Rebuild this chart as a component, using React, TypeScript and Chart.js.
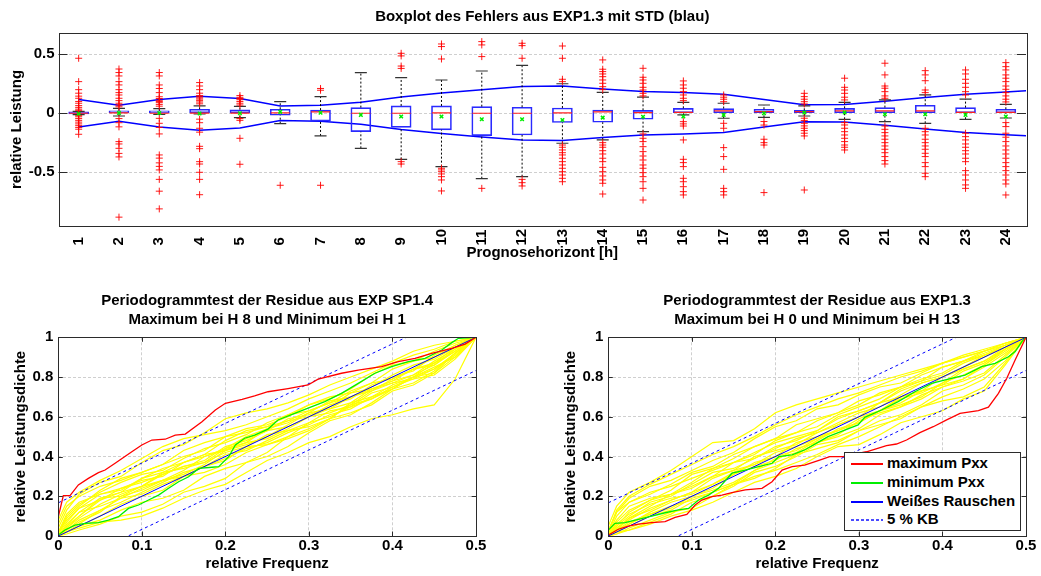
import React, { useEffect, useRef } from "react";
import { Chart, registerables } from "chart.js";

Chart.register(...registerables);

const FONT = "'Liberation Sans', Arial, Helvetica, sans-serif";
const GRID = "#cfcfcf";

// ---------------- Top chart: boxplot ----------------
const hours = ["1","2","3","4","5","6","7","8","9","10","11","12","13","14","15","16","17","18","19","20","21","22","23","24"];
const boxQ1 = [-0.006, 0, 0, 0, 0, -0.017, -0.066, -0.156, -0.119, -0.14, -0.19, -0.184, -0.078, -0.076, -0.051, 0, 0, 0.006, 0.006, 0, 0, 0, 0, 0];
const boxMedian = [0, 0.003, 0, 0.002, 0.002, 0.003, 0.012, 0, 0, 0.003, 0, 0, 0.003, 0.011, 0.005, 0.008, 0.02, 0.014, 0.014, 0.02, 0.02, 0.02, 0.008, 0.008];
const boxQ3 = [0.012, 0.02, 0.02, 0.034, 0.03, 0.034, 0.027, 0.048, 0.062, 0.062, 0.056, 0.051, 0.045, 0.028, 0.025, 0.042, 0.04, 0.034, 0.025, 0.042, 0.048, 0.068, 0.048, 0.034];
const whiskerLow = [-0.012, -0.023, -0.01, -0.006, -0.037, -0.088, -0.192, -0.297, -0.39, -0.452, -0.554, -0.537, -0.254, -0.226, -0.156, -0.014, -0.042, -0.034, -0.023, -0.051, -0.071, -0.085, -0.051, -0.04];
const whiskerHigh = [0.016, 0.042, 0.04, 0.062, 0.058, 0.099, 0.141, 0.344, 0.302, 0.282, 0.358, 0.406, 0.25, 0.177, 0.136, 0.093, 0.085, 0.07, 0.062, 0.093, 0.113, 0.155, 0.119, 0.076];
const boxMean = [-0.004, 0.003, 0.002, -0.002, 0, 0.012, 0.004, -0.014, -0.028, -0.028, -0.051, -0.051, -0.057, -0.037, -0.029, -0.028, -0.014, 0, 0.006, 0.006, -0.008, -0.008, -0.014, -0.028];
const stdDev = [0.117, 0.068, 0.117, 0.144, 0.125, 0.062, 0.068, 0.093, 0.138, 0.172, 0.2, 0.227, 0.23, 0.206, 0.185, 0.176, 0.162, 0.116, 0.072, 0.075, 0.101, 0.133, 0.162, 0.181, 0.2];
const outliers = [
  [0.466, 0.268, 0.2, 0.17, 0.145, 0.127, 0.1, 0.085, 0.065, 0.05, 0.035, 0.025, -0.02, -0.03, -0.045, -0.06, -0.075, -0.09, -0.105, -0.12, -0.135, -0.178],
  [0.375, 0.345, 0.316, 0.268, 0.24, 0.2, 0.175, 0.155, 0.127, 0.107, 0.085, 0.07, 0.055, -0.045, -0.08, -0.115, -0.24, -0.26, -0.297, -0.34, -0.37, -0.88],
  [0.345, 0.316, 0.24, 0.21, 0.175, 0.14, 0.125, 0.11, 0.1, 0.09, 0.075, 0.06, -0.043, -0.085, -0.12, -0.175, -0.353, -0.38, -0.42, -0.45, -0.48, -0.56, -0.66, -0.81],
  [0.26, 0.231, 0.2, 0.17, 0.15, 0.14, 0.13, 0.12, 0.107, 0.095, 0.08, -0.05, -0.08, -0.127, -0.16, -0.28, -0.3, -0.41, -0.43, -0.5, -0.56, -0.69],
  [0.15, 0.135, 0.125, 0.115, 0.1, 0.085, 0.07, -0.045, -0.06, -0.212, -0.432],
  [-0.61],
  [0.21, 0.195, -0.61],
  [],
  [0.508, 0.486, 0.4, 0.38, -0.41, -0.43],
  [0.587, 0.565, 0.46, -0.466, -0.48, -0.495, -0.514, -0.537, -0.565, -0.658],
  [0.607, 0.579, 0.48, -0.636],
  [0.593, 0.573, 0.466, -0.56, -0.588, -0.616],
  [0.57, 0.466, 0.288, 0.268, -0.269, -0.288, -0.311, -0.334, -0.353, -0.381, -0.41, -0.438, -0.466, -0.495, -0.523, -0.551, -0.58],
  [0.452, 0.373, 0.353, 0.333, 0.31, 0.282, 0.254, 0.225, 0.2, -0.249, -0.269, -0.288, -0.317, -0.345, -0.381, -0.41, -0.458, -0.495, -0.531, -0.565, -0.593, -0.684],
  [0.381, 0.305, 0.282, 0.254, 0.22, 0.197, 0.169, 0.147, -0.175, -0.212, -0.24, -0.283, -0.325, -0.362, -0.396, -0.438, -0.466, -0.503, -0.537, -0.58, -0.636, -0.735],
  [0.274, 0.24, 0.212, 0.183, 0.155, 0.127, 0.107, -0.071, -0.09, -0.108, -0.226, -0.39, -0.418, -0.452, -0.551, -0.58, -0.622, -0.664, -0.692],
  [0.155, 0.136, 0.119, 0.098, -0.085, -0.127, -0.291, -0.367, -0.475, -0.636, -0.664, -0.692],
  [-0.07, -0.1, -0.22, -0.249, -0.269, -0.672],
  [0.169, 0.141, 0.119, 0.098, 0.079, -0.042, -0.062, -0.085, -0.107, -0.127, -0.147, -0.169, -0.192, -0.65],
  [0.297, 0.22, 0.197, 0.169, 0.136, 0.113, -0.079, -0.099, -0.127, -0.156, -0.184, -0.212, -0.24, -0.269, -0.288, -0.311],
  [0.424, 0.325, 0.231, 0.212, 0.183, 0.147, 0.127, -0.108, -0.136, -0.164, -0.192, -0.22, -0.249, -0.277, -0.305, -0.334, -0.367, -0.401, -0.43],
  [0.361, 0.325, 0.276, 0.197, 0.175, -0.127, -0.156, -0.184, -0.22, -0.249, -0.277, -0.305, -0.339, -0.367, -0.418, -0.452, -0.508, -0.537],
  [0.367, 0.333, 0.288, 0.254, 0.22, 0.183, 0.155, -0.169, -0.198, -0.226, -0.26, -0.288, -0.317, -0.345, -0.381, -0.41, -0.486, -0.523, -0.565, -0.607, -0.636],
  [0.429, 0.395, 0.367, 0.325, 0.297, 0.268, 0.231, 0.203, 0.175, 0.147, 0.119, 0.096, -0.079, -0.113, -0.169, -0.203, -0.24, -0.277, -0.311, -0.345, -0.381, -0.418, -0.452, -0.486, -0.523, -0.565, -0.599, -0.692],
];
const topYTicks = [-0.5, 0, 0.5];
const topYTickLabels = ["-0.5", "0", "0.5"];

// ---------------- Bottom charts: periodogram ----------------
const freqTicks = [0, 0.1, 0.2, 0.3, 0.4, 0.5];
const freqTickLabels = ["0", "0.1", "0.2", "0.3", "0.4", "0.5"];
const densTicks = [0, 0.2, 0.4, 0.6, 0.8, 1];
const densTickLabels = ["0", "0.2", "0.4", "0.6", "0.8", "1"];
const whiteNoiseX = [0, 0.5];
const whiteNoiseY = [0, 1];
const kbX = [0, 0.5];
const kbUpperY = [0.167, 1.167];
const kbLowerY = [-0.167, 0.833];
const yellowX = [0, 0.01, 0.025, 0.05, 0.075, 0.1, 0.125, 0.15, 0.175, 0.2, 0.225, 0.25, 0.275, 0.3, 0.325, 0.35, 0.375, 0.4, 0.425, 0.45, 0.475, 0.5];

const leftYellow = [
  [0.04,0.13,0.21,0.27,0.3,0.37,0.43,0.46,0.52,0.59,0.62,0.64,0.67,0.71,0.76,0.8,0.84,0.88,0.93,0.96,0.98,1],
  [0.01,0.09,0.15,0.23,0.29,0.32,0.36,0.43,0.47,0.5,0.52,0.55,0.61,0.66,0.69,0.74,0.81,0.86,0.88,0.93,0.97,1],
  [0,0.05,0.1,0.18,0.22,0.29,0.34,0.37,0.41,0.48,0.53,0.55,0.58,0.63,0.67,0.7,0.75,0.81,0.86,0.89,0.95,1],
  [0,0.03,0.07,0.12,0.2,0.25,0.28,0.33,0.4,0.43,0.47,0.54,0.58,0.6,0.64,0.7,0.74,0.77,0.81,0.88,0.94,1],
  [0.02,0.11,0.17,0.21,0.24,0.27,0.31,0.35,0.37,0.44,0.47,0.49,0.54,0.6,0.62,0.66,0.73,0.77,0.79,0.84,0.92,1],
  [0,0.06,0.12,0.19,0.2,0.23,0.28,0.3,0.35,0.41,0.43,0.48,0.53,0.55,0.59,0.66,0.69,0.74,0.8,0.82,0.9,1],
  [0,0.02,0.05,0.1,0.16,0.2,0.23,0.3,0.35,0.38,0.45,0.51,0.53,0.57,0.63,0.65,0.69,0.75,0.79,0.81,0.89,1],
  [0.01,0.07,0.14,0.21,0.23,0.29,0.32,0.34,0.37,0.42,0.45,0.46,0.5,0.57,0.6,0.65,0.72,0.75,0.8,0.87,0.93,1],
  [0,0.04,0.09,0.16,0.21,0.25,0.32,0.37,0.4,0.44,0.5,0.54,0.57,0.62,0.68,0.7,0.73,0.79,0.84,0.87,0.95,1],
  [0,0.02,0.05,0.08,0.13,0.17,0.19,0.23,0.3,0.34,0.37,0.42,0.5,0.54,0.59,0.67,0.7,0.74,0.8,0.85,0.9,1],
  [0,0.01,0.03,0.06,0.1,0.12,0.16,0.22,0.25,0.29,0.37,0.4,0.45,0.52,0.58,0.61,0.67,0.74,0.77,0.83,0.92,1],
  [0,0.02,0.04,0.07,0.08,0.1,0.14,0.19,0.23,0.26,0.32,0.38,0.42,0.47,0.5,0.55,0.59,0.61,0.64,0.66,0.79,1],
  [0.01,0.1,0.16,0.22,0.27,0.31,0.33,0.39,0.44,0.47,0.51,0.57,0.61,0.63,0.67,0.73,0.77,0.79,0.84,0.9,0.95,1],
  [0,0.05,0.12,0.15,0.19,0.24,0.28,0.31,0.36,0.43,0.46,0.5,0.56,0.62,0.64,0.67,0.74,0.78,0.81,0.86,0.94,1],
  [0.06,0.15,0.2,0.25,0.28,0.32,0.36,0.4,0.43,0.5,0.54,0.56,0.6,0.66,0.7,0.72,0.77,0.84,0.88,0.9,0.96,1],
  [0,0.03,0.08,0.13,0.19,0.21,0.26,0.3,0.32,0.36,0.42,0.46,0.49,0.53,0.59,0.62,0.66,0.73,0.76,0.82,0.92,1],
  [0,0.04,0.1,0.19,0.22,0.25,0.31,0.35,0.38,0.45,0.48,0.53,0.59,0.61,0.65,0.72,0.74,0.78,0.84,0.86,0.93,1],
  [0.02,0.08,0.14,0.18,0.24,0.28,0.3,0.37,0.41,0.43,0.49,0.53,0.55,0.6,0.66,0.69,0.76,0.8,0.83,0.91,0.96,1],
  [0.08,0.17,0.22,0.28,0.33,0.39,0.45,0.49,0.51,0.53,0.56,0.6,0.64,0.69,0.73,0.77,0.82,0.87,0.91,0.94,0.98,1],
  [0,0.02,0.06,0.13,0.17,0.22,0.27,0.32,0.35,0.39,0.44,0.47,0.52,0.56,0.61,0.64,0.7,0.76,0.8,0.84,0.91,1],
];
const leftMaxX = [0, 0.006, 0.014, 0.024, 0.036, 0.048, 0.056, 0.068, 0.088, 0.1, 0.112, 0.128, 0.14, 0.152, 0.172, 0.188, 0.2, 0.22, 0.235, 0.251, 0.275, 0.299, 0.311, 0.339, 0.359, 0.387, 0.407, 0.427, 0.447, 0.471, 0.487, 0.5];
const leftMaxY = [0.097, 0.203, 0.203, 0.257, 0.29, 0.319, 0.332, 0.366, 0.424, 0.458, 0.483, 0.487, 0.508, 0.513, 0.575, 0.634, 0.668, 0.688, 0.705, 0.726, 0.742, 0.76, 0.789, 0.819, 0.835, 0.852, 0.877, 0.894, 0.919, 0.944, 0.966, 1.0];
const leftMinX = [0, 0.008, 0.02, 0.032, 0.048, 0.06, 0.072, 0.084, 0.096, 0.108, 0.12, 0.132, 0.144, 0.156, 0.168, 0.184, 0.192, 0.204, 0.212, 0.223, 0.235, 0.251, 0.263, 0.283, 0.299, 0.319, 0.339, 0.359, 0.379, 0.399, 0.419, 0.439, 0.459, 0.471, 0.479, 0.5];
const leftMinY = [0.005, 0.03, 0.055, 0.064, 0.067, 0.08, 0.097, 0.139, 0.156, 0.181, 0.206, 0.24, 0.273, 0.298, 0.34, 0.346, 0.349, 0.399, 0.458, 0.492, 0.508, 0.538, 0.584, 0.617, 0.643, 0.676, 0.718, 0.768, 0.819, 0.852, 0.877, 0.894, 0.936, 0.973, 0.995, 1.0];

const rightYellow = [
  [0.05,0.15,0.22,0.27,0.33,0.4,0.47,0.48,0.54,0.62,0.66,0.69,0.72,0.75,0.78,0.81,0.84,0.87,0.9,0.93,0.96,1],
  [0.02,0.12,0.19,0.25,0.28,0.33,0.38,0.42,0.49,0.55,0.58,0.64,0.66,0.71,0.75,0.77,0.82,0.87,0.9,0.93,0.97,1],
  [0,0.07,0.13,0.18,0.23,0.31,0.34,0.39,0.45,0.49,0.52,0.58,0.62,0.66,0.72,0.75,0.78,0.85,0.88,0.91,0.96,1],
  [0,0.05,0.1,0.17,0.2,0.26,0.32,0.34,0.39,0.45,0.48,0.53,0.6,0.63,0.67,0.74,0.78,0.81,0.87,0.91,0.95,1],
  [0.01,0.08,0.15,0.19,0.21,0.25,0.3,0.33,0.4,0.43,0.46,0.52,0.56,0.6,0.67,0.7,0.73,0.8,0.84,0.88,0.95,1],
  [0,0.04,0.08,0.14,0.18,0.22,0.29,0.33,0.36,0.42,0.45,0.49,0.56,0.6,0.63,0.7,0.73,0.76,0.83,0.87,0.94,1],
  [0,0.03,0.06,0.12,0.17,0.2,0.24,0.31,0.35,0.38,0.44,0.47,0.51,0.58,0.62,0.65,0.71,0.75,0.79,0.86,0.93,1],
  [0,0.02,0.05,0.1,0.13,0.19,0.22,0.26,0.33,0.37,0.41,0.47,0.5,0.54,0.61,0.65,0.69,0.75,0.78,0.82,0.91,1],
  [0,0.01,0.04,0.08,0.12,0.14,0.2,0.26,0.29,0.34,0.41,0.44,0.47,0.53,0.56,0.59,0.65,0.68,0.7,0.75,0.87,1],
  [0,0.02,0.03,0.06,0.1,0.13,0.17,0.22,0.27,0.3,0.34,0.4,0.45,0.46,0.51,0.57,0.6,0.63,0.69,0.73,0.86,1],
  [0.01,0.1,0.17,0.22,0.25,0.29,0.33,0.37,0.41,0.48,0.52,0.55,0.61,0.65,0.69,0.75,0.79,0.82,0.88,0.92,0.96,1],
  [0,0.06,0.11,0.16,0.19,0.21,0.26,0.32,0.36,0.4,0.47,0.5,0.53,0.59,0.63,0.67,0.73,0.76,0.79,0.85,0.92,1],
  [0,0.03,0.09,0.13,0.18,0.22,0.26,0.31,0.37,0.4,0.43,0.49,0.53,0.57,0.63,0.66,0.7,0.77,0.81,0.86,0.94,1],
  [0.03,0.12,0.17,0.21,0.26,0.32,0.35,0.41,0.45,0.49,0.56,0.59,0.62,0.68,0.71,0.75,0.81,0.85,0.88,0.93,0.97,1],
  [0,0.04,0.09,0.15,0.21,0.24,0.3,0.37,0.39,0.44,0.49,0.52,0.57,0.62,0.65,0.71,0.77,0.8,0.85,0.9,0.95,1],
  [0,0.02,0.06,0.11,0.14,0.2,0.23,0.27,0.33,0.39,0.42,0.48,0.54,0.57,0.63,0.69,0.72,0.77,0.84,0.88,0.94,1],
  [0,0.05,0.12,0.18,0.21,0.27,0.34,0.37,0.42,0.47,0.5,0.53,0.59,0.63,0.67,0.73,0.77,0.8,0.85,0.91,0.95,1],
  [0,0.01,0.03,0.07,0.11,0.17,0.2,0.25,0.32,0.35,0.4,0.46,0.48,0.53,0.58,0.61,0.66,0.73,0.76,0.81,0.9,1],
  [0.02,0.13,0.2,0.26,0.31,0.36,0.41,0.45,0.5,0.56,0.61,0.65,0.69,0.72,0.76,0.8,0.83,0.87,0.91,0.94,0.97,1],
  [0,0.03,0.07,0.11,0.15,0.18,0.22,0.26,0.3,0.33,0.37,0.41,0.46,0.5,0.55,0.6,0.65,0.7,0.74,0.79,0.88,1],
];
const rightMaxX = [0, 0.012, 0.024, 0.036, 0.052, 0.068, 0.08, 0.094, 0.104, 0.112, 0.124, 0.136, 0.148, 0.164, 0.184, 0.196, 0.208, 0.22, 0.235, 0.253, 0.265, 0.281, 0.309, 0.333, 0.345, 0.357, 0.373, 0.389, 0.405, 0.421, 0.443, 0.455, 0.467, 0.477, 0.487, 0.5];
const rightMaxY = [0.005, 0.034, 0.05, 0.06, 0.067, 0.072, 0.094, 0.109, 0.156, 0.181, 0.198, 0.206, 0.218, 0.232, 0.24, 0.273, 0.332, 0.349, 0.357, 0.382, 0.399, 0.399, 0.424, 0.455, 0.463, 0.483, 0.52, 0.55, 0.584, 0.617, 0.631, 0.648, 0.718, 0.794, 0.886, 1.0];
const rightMinX = [0, 0.008, 0.02, 0.036, 0.052, 0.068, 0.084, 0.096, 0.108, 0.12, 0.132, 0.148, 0.164, 0.18, 0.196, 0.204, 0.22, 0.235, 0.251, 0.263, 0.283, 0.299, 0.307, 0.327, 0.347, 0.367, 0.387, 0.407, 0.427, 0.447, 0.463, 0.479, 0.487, 0.495, 0.5];
const rightMinY = [0.03, 0.064, 0.067, 0.084, 0.1, 0.117, 0.131, 0.139, 0.181, 0.206, 0.24, 0.316, 0.332, 0.349, 0.366, 0.399, 0.408, 0.433, 0.471, 0.5, 0.533, 0.559, 0.597, 0.634, 0.676, 0.726, 0.768, 0.789, 0.81, 0.852, 0.869, 0.902, 0.928, 0.978, 1.0];

const legendItems = ["maximum Pxx", "minimum Pxx", "Weißes Rauschen", "5 % KB"];
const legendColors = ["#ff0000", "#00ee00", "#0000ff", "#4a4aff"];

// ---------------- helpers ----------------
const toXY = (xs: number[], ys: number[]) => xs.map((x, i) => ({ x, y: ys[i] }));
const boldFont = (size = 15, lineHeight = 1.2) => ({ family: FONT, size, weight: "bold" as const, lineHeight });

function framePlugin(cfg: { tickLen: number; xTicks: boolean; rotLabels?: string[]; rotValues?: number[]; rotY?: number }) {
  return {
    id: "frameTicks",
    afterDraw(chart: any) {
      const { ctx, chartArea: a, scales } = chart;
      ctx.save();
      ctx.setLineDash([]);
      ctx.strokeStyle = "#2b2b2b";
      ctx.lineWidth = 1;
      ctx.beginPath();
      for (const t of scales.y.ticks) {
        const py = Math.round(scales.y.getPixelForValue(t.value)) + 0.5;
        ctx.moveTo(a.left, py); ctx.lineTo(a.left + cfg.tickLen, py);
        ctx.moveTo(a.right, py); ctx.lineTo(a.right - cfg.tickLen, py);
      }
      if (cfg.xTicks) {
        for (const t of scales.x.ticks) {
          const px = Math.round(scales.x.getPixelForValue(t.value)) + 0.5;
          ctx.moveTo(px, a.bottom); ctx.lineTo(px, a.bottom - cfg.tickLen);
          ctx.moveTo(px, a.top); ctx.lineTo(px, a.top + cfg.tickLen);
        }
      }
      ctx.stroke();
      ctx.strokeRect(Math.round(a.left) + 0.5, Math.round(a.top) + 0.5, Math.round(a.right - a.left), Math.round(a.bottom - a.top));
      if (cfg.rotLabels && cfg.rotValues) {
        ctx.fillStyle = "#000";
        ctx.font = `bold 15px ${FONT}`;
        ctx.textAlign = "left";
        ctx.textBaseline = "middle";
        cfg.rotLabels.forEach((lab, i) => {
          const px = scales.x.getPixelForValue(cfg.rotValues![i]);
          ctx.save();
          ctx.translate(px, cfg.rotY || 0);
          ctx.rotate(-Math.PI / 2);
          ctx.fillText(lab, 0, 0);
          ctx.restore();
        });
      }
      ctx.restore();
    },
  };
}

function TopChart() {
  const ref = useRef<HTMLCanvasElement>(null);
  useEffect(() => {
    const xs = hours.map(Number);
    const whiskers: any[] = [];
    const caps: any[] = [];
    const outPts: any[] = [];
    xs.forEach((x, i) => {
      whiskers.push({ x, y: boxQ3[i] }, { x, y: whiskerHigh[i] }, { x, y: null }, { x, y: whiskerLow[i] }, { x, y: boxQ1[i] }, { x, y: null });
      caps.push({ x, y: whiskerHigh[i] }, { x, y: whiskerLow[i] });
      outliers[i].forEach((v) => outPts.push({ x, y: v }));
    });
    const stdX = stdDev.map((_, i) => i + 1);
    const chart = new Chart(ref.current as HTMLCanvasElement, {
      type: "scatter",
      data: {
        datasets: [
          { type: "scatter", label: "Mittelwert", data: xs.map((x, i) => ({ x, y: boxMean[i] })), pointStyle: "crossRot", pointRadius: 2.5, borderColor: "#00ee00", borderWidth: 1.5, order: 0 } as any,
          { type: "scatter", label: "Ausreißer", data: outPts, pointStyle: "cross", pointRadius: 3.5, borderColor: "rgba(255,0,0,0.9)", borderWidth: 1, order: 1 } as any,
          { type: "scatter", label: "Median", data: xs.map((x, i) => ({ x, y: boxMedian[i] })), pointStyle: "line", pointRadius: 9.5, borderColor: "#ff2020", borderWidth: 1.2, order: 2 } as any,
          { type: "scatter", label: "Whisker-Enden", data: caps, pointStyle: "line", pointRadius: 6, borderColor: "#333", borderWidth: 1.2, order: 3 } as any,
          { type: "line", label: "Whisker", data: whiskers, borderColor: "#000", borderWidth: 1, borderDash: [2, 2], pointRadius: 0, spanGaps: false, order: 4 } as any,
          { type: "bar", label: "Box", data: xs.map((x, i) => ({ x, y: [boxQ1[i], boxQ3[i]] })), backgroundColor: "rgba(0,0,0,0)", borderColor: "#2a2aff", borderWidth: 1, borderSkipped: false, barThickness: 20, grouped: false, order: 5 } as any,
          { type: "line", label: "+STD", data: toXY(stdX, stdDev), borderColor: "#0000ff", borderWidth: 1.5, pointRadius: 0, order: 6 } as any,
          { type: "line", label: "-STD", data: toXY(stdX, stdDev.map((v) => -v)), borderColor: "#0000ff", borderWidth: 1.5, pointRadius: 0, order: 7 } as any,
        ],
      },
      options: {
        animation: false,
        responsive: false,
        events: [],
        layout: { padding: { left: 0, right: 15, top: 0, bottom: 0 } },
        plugins: {
          legend: { display: false },
          tooltip: { enabled: false },
          title: { display: true, fullSize: false, text: "Boxplot des Fehlers aus EXP1.3 mit STD (blau)", color: "#000", font: boldFont(15, 1.2), padding: { top: 7.7, bottom: 7.3 } },
        },
        scales: {
          x: {
            type: "linear", min: 0.5, max: 24.5, offset: false,
            grid: { display: false, drawTicks: false },
            border: { display: false },
            ticks: { display: false },
            title: { display: true, text: "Prognosehorizont [h]", color: "#000", font: boldFont(), padding: { top: 0, bottom: 14 } },
            afterFit: (s: any) => { s.height = 50; },
          },
          y: {
            type: "linear", min: -0.955, max: 0.68,
            afterBuildTicks: (s: any) => { s.ticks = topYTicks.map((v) => ({ value: v })); },
            ticks: { callback: (_v: any, i: number) => topYTickLabels[i], color: "#000", font: boldFont(), padding: 4 },
            grid: { color: GRID, drawTicks: false, lineWidth: 1 },
            border: { display: false, dash: [3, 2] },
            title: { display: true, text: "relative Leistung", color: "#000", font: boldFont(), padding: { top: 8, bottom: 0 } },
            afterFit: (s: any) => { s.width = 58.5; },
          },
        },
      } as any,
      plugins: [framePlugin({ tickLen: 9, xTicks: false, rotLabels: hours, rotValues: xs, rotY: 245.5 })],
    });
    return () => chart.destroy();
  }, []);
  return <canvas ref={ref} width={1041} height={276} style={{ display: "block", width: 1041, height: 276 }} />;
}

function PeriodChart(props: {
  width: number; titleLines: string[]; yellow: number[][]; maxX: number[]; maxY: number[]; minX: number[]; minY: number[];
  yAxisWidth: number; padRight: number; yTitlePad: number;
}) {
  const ref = useRef<HTMLCanvasElement>(null);
  useEffect(() => {
    const line = (data: any[], color: string, width: number, order: number, dash: number[] = []) => ({
      type: "scatter", data, showLine: true, borderColor: color, backgroundColor: color, borderWidth: width, borderDash: dash, pointRadius: 0, order,
    });
    const datasets: any[] = [
      { label: "maximum Pxx", ...line(toXY(props.maxX, props.maxY), "#ff0000", 1.3, 0) },
      { label: "minimum Pxx", ...line(toXY(props.minX, props.minY), "#00ee00", 1.3, 1) },
      { label: "Weißes Rauschen", ...line(toXY(whiteNoiseX, whiteNoiseY), "#0000ff", 1, 2) },
      { label: "5 % KB", ...line(toXY(kbX, kbUpperY), "#0000ff", 1, 3, [3, 3]) },
      { label: "5 % KB unten", ...line(toXY(kbX, kbLowerY), "#0000ff", 1, 4, [3, 3]) },
      ...props.yellow.map((ys, k) => ({ label: `H ${k}`, ...line(toXY(yellowX, ys), "#ffff00", 1.2, 10 + k) })),
    ];
    const chart = new Chart(ref.current as HTMLCanvasElement, {
      type: "scatter",
      data: { datasets },
      options: {
        animation: false,
        responsive: false,
        events: [],
        layout: { padding: { left: 0, right: props.padRight, top: 0, bottom: 0 } },
        plugins: {
          legend: { display: false },
          tooltip: { enabled: false },
          title: { display: true, fullSize: false, text: props.titleLines, color: "#000", font: boldFont(15, 1.213), padding: { top: 12.2, bottom: 8.7 } },
        },
        scales: {
          x: {
            type: "linear", min: 0, max: 0.5,
            afterBuildTicks: (s: any) => { s.ticks = freqTicks.map((v) => ({ value: v })); },
            ticks: { callback: (_v: any, i: number) => freqTickLabels[i], color: "#000", font: boldFont(), padding: 1, maxRotation: 0 },
            grid: { color: GRID, drawTicks: false, lineWidth: 1 },
            border: { display: false, dash: [3, 2] },
            title: { display: true, text: "relative Frequenz", color: "#000", font: boldFont(), padding: { top: 0, bottom: 2.7 } },
            afterFit: (s: any) => { s.height = 40; },
          },
          y: {
            type: "linear", min: 0, max: 1,
            afterBuildTicks: (s: any) => { s.ticks = densTicks.map((v) => ({ value: v })); },
            ticks: { callback: (_v: any, i: number) => densTickLabels[i], color: "#000", font: boldFont(), padding: 5 },
            grid: { color: GRID, drawTicks: false, lineWidth: 1 },
            border: { display: false, dash: [3, 2] },
            title: { display: true, text: "relative Leistungsdichte", color: "#000", font: boldFont(), padding: { top: props.yTitlePad, bottom: 0 } },
            afterFit: (s: any) => { s.width = props.yAxisWidth; },
          },
        },
      } as any,
      plugins: [framePlugin({ tickLen: 4.5, xTicks: true })],
    });
    return () => chart.destroy();
  }, []);
  return <canvas ref={ref} width={props.width} height={296} style={{ display: "block", width: props.width, height: 296 }} />;
}

function Legend() {
  const rowTops = [11.3, 30, 49, 67.3];
  return (
    <div style={{ position: "absolute", left: 844, top: 452, width: 177, height: 79, boxSizing: "border-box", border: "1px solid #2b2b2b", background: "#fff" }}>
      {legendItems.map((txt, i) => (
        <div key={txt} style={{ position: "absolute", left: 0, top: rowTops[i] - 10, height: 20, width: 176 }}>
          <div
            style={{
              position: "absolute", left: 6, top: 9, width: 32, height: 1.5,
              background: i === 3
                ? `repeating-linear-gradient(90deg, ${legendColors[i]} 0px, ${legendColors[i]} 3px, rgba(255,255,255,0) 3px, rgba(255,255,255,0) 5px)`
                : legendColors[i],
            }}
          />
          <div style={{ position: "absolute", left: 42, top: 0, lineHeight: "20px", font: `bold 15px ${FONT}`, color: "#000", whiteSpace: "nowrap" }}>{txt}</div>
        </div>
      ))}
    </div>
  );
}

export default function App() {
  return (
    <div style={{ position: "absolute", left: 0, top: 0, width: 1041, height: 576, background: "#fff", overflow: "hidden" }}>
      <div style={{ position: "absolute", left: 0, top: 0 }}>
        <TopChart />
      </div>
      <div style={{ position: "absolute", left: 0, top: 280 }}>
        <PeriodChart width={520} titleLines={["Periodogrammtest der Residue aus EXP SP1.4", "Maximum bei H 8 und Minimum bei H 1"]}
          yellow={leftYellow} maxX={leftMaxX} maxY={leftMaxY} minX={leftMinX} minY={leftMinY}
          yAxisWidth={58.3} padRight={44} yTitlePad={12} />
      </div>
      <div style={{ position: "absolute", left: 520, top: 280 }}>
        <PeriodChart width={521} titleLines={["Periodogrammtest der Residue aus EXP1.3", "Maximum bei H 0 und Minimum bei H 13"]}
          yellow={rightYellow} maxX={rightMaxX} maxY={rightMaxY} minX={rightMinX} minY={rightMinY}
          yAxisWidth={88.3} padRight={15} yTitlePad={41.7} />
      </div>
      <Legend />
    </div>
  );
}
